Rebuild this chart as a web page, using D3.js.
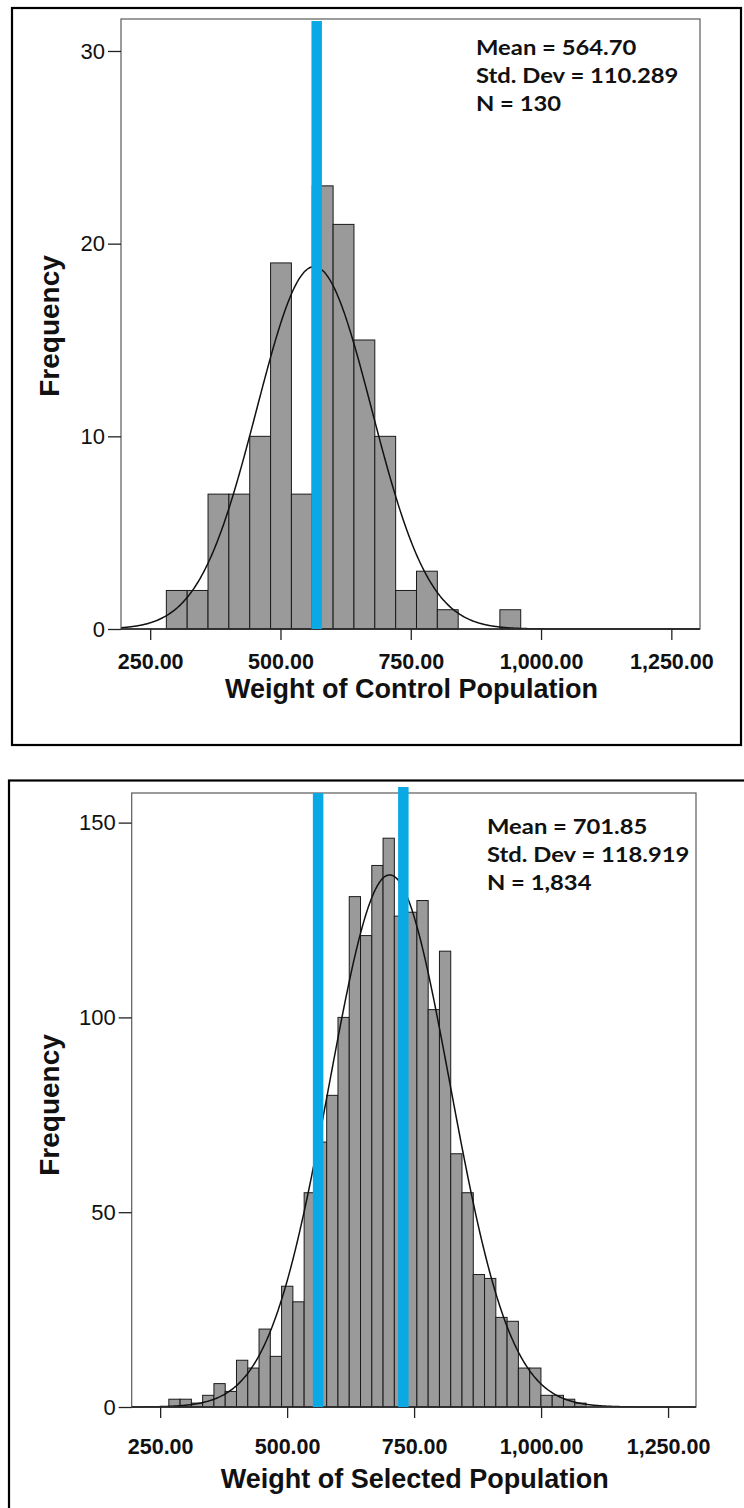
<!DOCTYPE html>
<html>
<head>
<meta charset="utf-8">
<script src="https://cdn.jsdelivr.net/npm/d3@7"></script>
<style>
  body { margin: 0; background: #fff; }
  svg { display: block; }
  .domain { display: none; }
</style>
</head>
<body>
<script>
// ---- data ----
var xTicks = [250, 500, 750, 1000, 1250];

var controlCounts = [2, 2, 7, 7, 10, 19, 7, 23, 21, 15, 10, 2, 3, 1, 0, 0, 1];
var controlBinStart = 281, controlBinWidth = 40;
var controlYTicks = [0, 10, 20, 30];
var controlStats = ["Mean = 564.70", "Std. Dev = 110.289", "N = 130"];
var controlMean = 564.70, controlSd = 110.289, controlN = 130;
var controlMarkers = [569.5];

var selectedCounts = [2, 2, 1, 3, 6, 4, 12, 10, 20, 13, 31, 27, 55, 68, 80, 100, 131, 121, 139, 146,
                      126, 127, 130, 102, 117, 65, 55, 34, 33, 23, 22, 10, 10, 3, 3, 2, 1];
var selectedBinStart = 267.1, selectedBinWidth = 22.2;
var selectedYTicks = [0, 50, 100, 150];
var selectedStats = ["Mean = 701.85", "Std. Dev = 118.919", "N = 1,834"];
var selectedMean = 701.85, selectedSd = 118.919, selectedN = 1834;
var selectedMarkers = [561, 728.8];

var W = 744, H = 1508;
var svg = d3.select("body").append("svg").attr("width", W).attr("height", H);

function histogram(o) {
  var g = svg.append("g");

  // outer black frame
  g.append("rect")
    .attr("x", o.frame[0]).attr("y", o.frame[1])
    .attr("width", o.frame[2]).attr("height", o.frame[3])
    .attr("fill", "none").attr("stroke", "#000").attr("stroke-width", 2.2);

  var x = d3.scaleLinear().domain([194, 1305]).range([o.left, o.right]);
  var y = d3.scaleLinear().domain([0, o.yMax]).range([o.bottom, o.top]);

  var bins = o.counts.map(function(c, i) {
    return { x0: o.binStart + i * o.binWidth, x1: o.binStart + (i + 1) * o.binWidth, n: c };
  }).filter(function(d) { return d.n > 0; });

  g.selectAll("rect.bar").data(bins).enter().append("rect")
    .attr("class", "bar")
    .attr("x", function(d) { return x(d.x0); })
    .attr("width", function(d) { return x(d.x1) - x(d.x0); })
    .attr("y", function(d) { return y(d.n); })
    .attr("height", function(d) { return y(0) - y(d.n); })
    .attr("fill", "#9a9a9a").attr("stroke", "#1a1a1a").attr("stroke-width", 1);

  // fitted normal curve: N * binWidth * pdf
  var k = o.n * o.binWidth / (o.sd * Math.sqrt(2 * Math.PI));
  var xs = d3.range(194, 1305.5, 2);
  var line = d3.line()
    .x(function(v) { return x(v); })
    .y(function(v) { return y(k * Math.exp(-0.5 * Math.pow((v - o.mean) / o.sd, 2))); })
    .curve(d3.curveBasis);
  g.append("path").datum(xs).attr("d", line)
    .attr("fill", "none").attr("stroke", "#111").attr("stroke-width", 1.5);

  // plot box
  g.append("rect")
    .attr("x", o.left).attr("y", o.top)
    .attr("width", o.right - o.left).attr("height", o.bottom - o.top)
    .attr("fill", "none").attr("stroke", "#5a5a5a").attr("stroke-width", 1.2);
  g.append("line")
    .attr("x1", o.left).attr("x2", o.right).attr("y1", o.bottom).attr("y2", o.bottom)
    .attr("stroke", "#222").attr("stroke-width", 1.5);

  // blue marker lines
  g.selectAll("line.mark").data(o.markers).enter().append("line")
    .attr("class", "mark")
    .attr("x1", function(d) { return x(d); }).attr("x2", function(d) { return x(d); })
    .attr("y1", function(d, i) { return o.markTop[i]; }).attr("y2", o.bottom)
    .attr("stroke", "#0aa9e6").attr("stroke-width", 10.5);

  // axes
  var yAxis = d3.axisLeft(y).tickValues(o.yTicks).tickSize(13).tickPadding(3);
  g.append("g").attr("transform", "translate(" + o.left + ",0)").call(yAxis)
    .selectAll("text")
    .attr("font-family", "'Liberation Sans', Arial, sans-serif")
    .attr("font-size", 22).attr("fill", "#111");

  var xAxis = d3.axisBottom(x).tickValues(xTicks).tickSize(11).tickPadding(o.xPad)
    .tickFormat(d3.format(",.2f"));
  g.append("g").attr("transform", "translate(0," + o.bottom + ")").call(xAxis)
    .selectAll("text")
    .attr("font-family", "'Liberation Sans', Arial, sans-serif")
    .attr("font-weight", "bold").attr("font-size", 21.5).attr("fill", "#111");
  g.selectAll(".tick line").attr("stroke", "#222").attr("stroke-width", 1.3);

  // axis titles
  g.append("text")
    .attr("x", (o.left + o.right) / 2 + 1).attr("y", o.titleY)
    .attr("text-anchor", "middle")
    .attr("font-family", "'Liberation Sans', Arial, sans-serif")
    .attr("font-weight", "bold").attr("font-size", 27).attr("fill", "#111")
    .text(o.title);
  g.append("text")
    .attr("transform", "translate(59," + o.freqY + ") rotate(-90)")
    .attr("text-anchor", "middle")
    .attr("font-family", "'Liberation Sans', Arial, sans-serif")
    .attr("font-weight", "bold").attr("font-size", 28).attr("fill", "#111")
    .text("Frequency");

  // stats block (slightly stretched, like the source)
  g.selectAll("text.stat").data(o.stats).enter().append("text")
    .attr("class", "stat")
    .attr("transform", function(d, i) {
      return "translate(" + o.statX + "," + (o.statY + i * 28) + ") scale(1.19,1)";
    })
    .attr("font-family", "Lato, 'Open Sans', sans-serif")
    .attr("font-weight", "bold").attr("font-size", 20).attr("fill", "#111")
    .text(function(d) { return d; });
}

histogram({
  frame: [12, 8, 729, 737],
  left: 121, right: 700, top: 19, bottom: 629, yMax: 31.66,
  counts: controlCounts, binStart: controlBinStart, binWidth: controlBinWidth,
  mean: controlMean, sd: controlSd, n: controlN,
  markers: controlMarkers, markTop: [21],
  yTicks: controlYTicks, xPad: 14,
  title: "Weight of Control Population", titleY: 698, freqY: 326,
  stats: controlStats, statX: 476, statY: 55
});

histogram({
  frame: [9, 780.5, 800, 800],
  left: 131.7, right: 696, top: 793, bottom: 1407, yMax: 157.6,
  counts: selectedCounts, binStart: selectedBinStart, binWidth: selectedBinWidth,
  mean: selectedMean, sd: selectedSd, n: selectedN,
  markers: selectedMarkers, markTop: [793, 787],
  yTicks: selectedYTicks, xPad: 21,
  title: "Weight of Selected Population", titleY: 1488, freqY: 1105,
  stats: selectedStats, statX: 487, statY: 834
});
</script>
</body>
</html>
